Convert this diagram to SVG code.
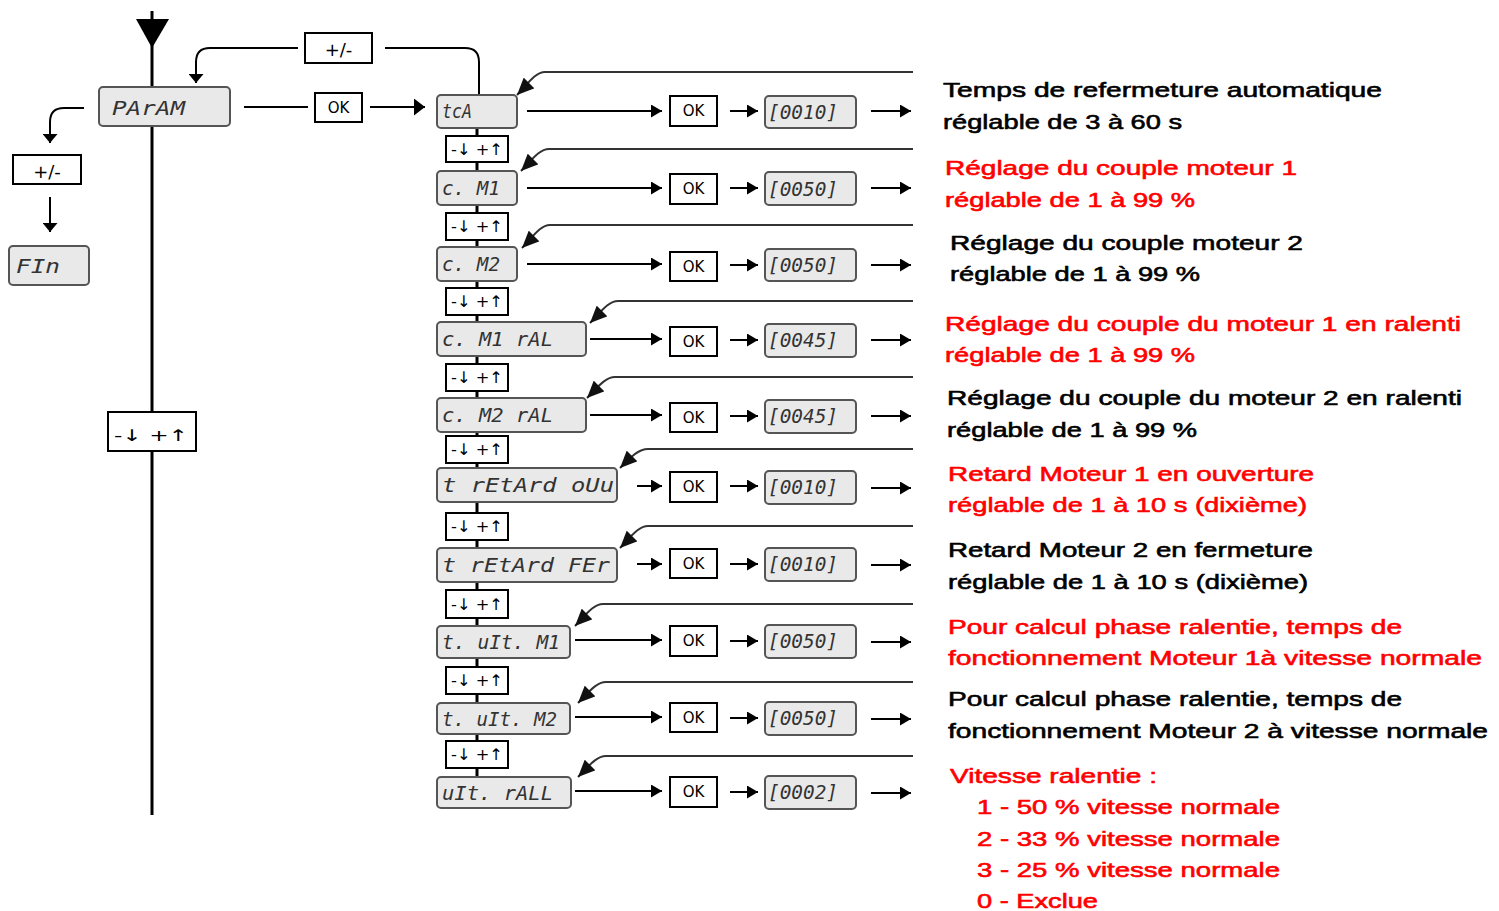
<svg xmlns="http://www.w3.org/2000/svg" width="1499" height="911" viewBox="0 0 1499 911">
<style>
.disp{fill:#e9e9e9;stroke:#555;stroke-width:2}
.btn{fill:#fff;stroke:#000;stroke-width:2}
.seg{font-family:"DejaVu Sans Mono",monospace;font-style:italic;font-size:19px;fill:#333}
.ok{font-family:"DejaVu Sans",sans-serif;font-size:15px;fill:#000}
.pm{font-family:"DejaVu Sans",sans-serif;font-size:18px;fill:#000}
.ud{font-family:"DejaVu Sans",sans-serif;font-size:16px;fill:#000}
.t{font-family:"Liberation Sans",Arial,sans-serif;font-size:21px;stroke-width:0.6px}
.k{fill:#000;stroke:#000}
.r{fill:#ff0000;stroke:#ff0000}
.ln{fill:none;stroke:#000;stroke-width:2}
.ret{fill:none;stroke:#333;stroke-width:2}
.th{fill:none;stroke:#000;stroke-width:3}
</style>
<defs>
<marker id="ah" markerUnits="userSpaceOnUse" markerWidth="11" markerHeight="13" refX="11" refY="6.5" orient="auto"><path d="M0,0 L11,6.5 L0,13 z" fill="#000"/></marker>
<marker id="ahT" markerUnits="userSpaceOnUse" markerWidth="11" markerHeight="17" refX="11" refY="8.5" orient="auto"><path d="M0,0 L11,8.5 L0,17 z" fill="#000"/></marker>
<marker id="ahD" markerUnits="userSpaceOnUse" markerWidth="9" markerHeight="15" refX="9" refY="7.5" orient="auto"><path d="M0,0 L9,7.5 L0,15 z" fill="#000"/></marker>
<marker id="ahR" markerUnits="userSpaceOnUse" markerWidth="17" markerHeight="15" refX="17" refY="7.5" orient="auto"><path d="M0,0 L17,7.5 L0,15 z" fill="#111"/></marker>
</defs>

<g id="connectors">
<path class="th" d="M152,11 V87"/>
<path class="th" d="M152,126 V815"/>
<polygon points="136,19 169,19 152,48" fill="#000"/>
<path class="ln" d="M244,107 H308"/>
<path class="ln" d="M370,107 H425" marker-end="url(#ahT)"/>
<path class="ln" d="M479,95 V62 Q479,48 465,48 H385"/>
<path class="ln" d="M298,48 H210 Q196,48 196,62 V83" marker-end="url(#ahD)"/>
<path class="ln" d="M84,108 H64 Q50,108 50,122 V143" marker-end="url(#ahD)"/>
<path class="ln" d="M50,197 V232" marker-end="url(#ahD)"/>
<path class="th" d="M477,127 V777"/>

<path class="ln" d="M527,111 H662" marker-end="url(#ah)"/>
<path class="ln" d="M527,188 H662" marker-end="url(#ah)"/>
<path class="ln" d="M527,264 H662" marker-end="url(#ah)"/>
<path class="ln" d="M590,339 H662" marker-end="url(#ah)"/>
<path class="ln" d="M590,415 H662" marker-end="url(#ah)"/>
<path class="ln" d="M637,486 H662" marker-end="url(#ah)"/>
<path class="ln" d="M637,564 H662" marker-end="url(#ah)"/>
<path class="ln" d="M575,640 H662" marker-end="url(#ah)"/>
<path class="ln" d="M575,717 H662" marker-end="url(#ah)"/>
<path class="ln" d="M575,791 H662" marker-end="url(#ah)"/>

<path class="ln" d="M730,111 H758" marker-end="url(#ah)"/>
<path class="ln" d="M730,188 H758" marker-end="url(#ah)"/>
<path class="ln" d="M730,265 H758" marker-end="url(#ah)"/>
<path class="ln" d="M730,340 H758" marker-end="url(#ah)"/>
<path class="ln" d="M730,416 H758" marker-end="url(#ah)"/>
<path class="ln" d="M730,486 H758" marker-end="url(#ah)"/>
<path class="ln" d="M730,564 H758" marker-end="url(#ah)"/>
<path class="ln" d="M730,641 H758" marker-end="url(#ah)"/>
<path class="ln" d="M730,718 H758" marker-end="url(#ah)"/>
<path class="ln" d="M730,792 H758" marker-end="url(#ah)"/>

<path class="ln" d="M871,111 H911" marker-end="url(#ah)"/>
<path class="ln" d="M871,188 H911" marker-end="url(#ah)"/>
<path class="ln" d="M871,265 H911" marker-end="url(#ah)"/>
<path class="ln" d="M871,340 H911" marker-end="url(#ah)"/>
<path class="ln" d="M871,416 H911" marker-end="url(#ah)"/>
<path class="ln" d="M871,488 H911" marker-end="url(#ah)"/>
<path class="ln" d="M871,565 H911" marker-end="url(#ah)"/>
<path class="ln" d="M871,642 H911" marker-end="url(#ah)"/>
<path class="ln" d="M871,719 H911" marker-end="url(#ah)"/>
<path class="ln" d="M871,793 H911" marker-end="url(#ah)"/>

<path class="ret" d="M913,72 H545 C535,72 527,85 517,95" marker-end="url(#ahR)"/>
<path class="ret" d="M913,149 H549 C539,149 531,161 521,171" marker-end="url(#ahR)"/>
<path class="ret" d="M913,225 H550 C540,225 532,238 522,248" marker-end="url(#ahR)"/>
<path class="ret" d="M913,301 H618 C608,301 600,313 590,323" marker-end="url(#ahR)"/>
<path class="ret" d="M913,377 H615 C605,377 597,388 587,398" marker-end="url(#ahR)"/>
<path class="ret" d="M913,449 H648 C638,449 630,458 620,468" marker-end="url(#ahR)"/>
<path class="ret" d="M913,526 H648 C638,526 630,538 620,548" marker-end="url(#ahR)"/>
<path class="ret" d="M913,604 H603 C593,604 585,616 575,626" marker-end="url(#ahR)"/>
<path class="ret" d="M913,682 H606 C596,682 588,693 578,703" marker-end="url(#ahR)"/>
<path class="ret" d="M913,756 H606 C596,756 588,767 578,777" marker-end="url(#ahR)"/>
</g>

<g id="n-param"><rect class="disp" x="99" y="87" width="131" height="39" rx="4"/><text class="seg" x="112" y="115" font-size="23" textLength="73" lengthAdjust="spacingAndGlyphs">PArAM</text></g>
<g id="n-ok-param"><rect class="btn" x="315" y="93" width="47" height="29"/><text class="ok" x="338.5" y="113" text-anchor="middle">OK</text></g>
<g id="n-pm-top"><rect class="btn" x="305" y="33" width="67" height="30"/><text class="pm" x="338.5" y="56" text-anchor="middle" font-size="20">+/-</text></g>
<g id="n-pm-left"><rect class="btn" x="13" y="155" width="68" height="29"/><text class="pm" x="47" y="178" text-anchor="middle" font-size="20">+/-</text></g>
<g id="n-fin"><rect class="disp" x="9" y="246" width="80" height="39" rx="4"/><text class="seg" x="16" y="273" font-size="22" textLength="44" lengthAdjust="spacingAndGlyphs">FIn</text></g>
<g id="n-ud-left"><rect class="btn" x="108" y="412" width="88" height="39"/><text class="ud" x="114" y="441" font-size="22" textLength="74" lengthAdjust="spacingAndGlyphs">-↓ +↑</text></g>

<g id="n-tca"><rect class="disp" x="437" y="95" width="80" height="33" rx="4"/><text class="seg" x="442" y="118" textLength="30" lengthAdjust="spacingAndGlyphs">tcA</text></g>
<g id="n-ud1"><rect class="btn" x="446" y="136" width="62" height="26"/><text class="ud" x="451" y="155" textLength="52" lengthAdjust="spacingAndGlyphs">-↓ +↑</text></g>
<g id="n-cm1"><rect class="disp" x="437" y="171" width="80" height="34" rx="4"/><text class="seg" x="442" y="195" textLength="58" lengthAdjust="spacingAndGlyphs">c. M1</text></g>
<g id="n-ud2"><rect class="btn" x="446" y="213" width="62" height="27"/><text class="ud" x="451" y="232" textLength="52" lengthAdjust="spacingAndGlyphs">-↓ +↑</text></g>
<g id="n-cm2"><rect class="disp" x="437" y="247" width="80" height="34" rx="4"/><text class="seg" x="442" y="271" textLength="58" lengthAdjust="spacingAndGlyphs">c. M2</text></g>
<g id="n-ud3"><rect class="btn" x="446" y="288" width="62" height="27"/><text class="ud" x="451" y="307" textLength="52" lengthAdjust="spacingAndGlyphs">-↓ +↑</text></g>
<g id="n-cm1ral"><rect class="disp" x="437" y="322" width="149" height="34" rx="4"/><text class="seg" x="442" y="346" textLength="111" lengthAdjust="spacingAndGlyphs">c. M1 rAL</text></g>
<g id="n-ud4"><rect class="btn" x="446" y="364" width="62" height="27"/><text class="ud" x="451" y="383" textLength="52" lengthAdjust="spacingAndGlyphs">-↓ +↑</text></g>
<g id="n-cm2ral"><rect class="disp" x="437" y="398" width="149" height="34" rx="4"/><text class="seg" x="442" y="422" textLength="111" lengthAdjust="spacingAndGlyphs">c. M2 rAL</text></g>
<g id="n-ud5"><rect class="btn" x="446" y="436" width="62" height="27"/><text class="ud" x="451" y="455" textLength="52" lengthAdjust="spacingAndGlyphs">-↓ +↑</text></g>
<g id="n-tretouv"><rect class="disp" x="437" y="468" width="180" height="34" rx="4"/><text class="seg" x="442" y="492" textLength="172" lengthAdjust="spacingAndGlyphs">t rEtArd oUu</text></g>
<g id="n-ud6"><rect class="btn" x="446" y="513" width="62" height="27"/><text class="ud" x="451" y="532" textLength="52" lengthAdjust="spacingAndGlyphs">-↓ +↑</text></g>
<g id="n-tretfer"><rect class="disp" x="437" y="548" width="180" height="34" rx="4"/><text class="seg" x="442" y="572" textLength="168" lengthAdjust="spacingAndGlyphs">t rEtArd FEr</text></g>
<g id="n-ud7"><rect class="btn" x="446" y="590" width="62" height="28"/><text class="ud" x="451" y="610" textLength="52" lengthAdjust="spacingAndGlyphs">-↓ +↑</text></g>
<g id="n-tvitm1"><rect class="disp" x="437" y="626" width="133" height="32" rx="4"/><text class="seg" x="442" y="649" textLength="118" lengthAdjust="spacingAndGlyphs">t. uIt. M1</text></g>
<g id="n-ud8"><rect class="btn" x="446" y="667" width="62" height="27"/><text class="ud" x="451" y="686" textLength="52" lengthAdjust="spacingAndGlyphs">-↓ +↑</text></g>
<g id="n-tvitm2"><rect class="disp" x="437" y="703" width="133" height="31" rx="4"/><text class="seg" x="442" y="726" textLength="115" lengthAdjust="spacingAndGlyphs">t. uIt. M2</text></g>
<g id="n-ud9"><rect class="btn" x="446" y="741" width="62" height="27"/><text class="ud" x="451" y="760" textLength="52" lengthAdjust="spacingAndGlyphs">-↓ +↑</text></g>
<g id="n-vitrall"><rect class="disp" x="437" y="777" width="134" height="31" rx="4"/><text class="seg" x="442" y="800" textLength="111" lengthAdjust="spacingAndGlyphs">uIt. rALL</text></g>

<g id="n-ok1"><rect class="btn" x="670" y="96" width="47" height="30"/><text class="ok" x="693.5" y="116" text-anchor="middle">OK</text></g>
<g id="n-ok2"><rect class="btn" x="670" y="174" width="47" height="30"/><text class="ok" x="693.5" y="194" text-anchor="middle">OK</text></g>
<g id="n-ok3"><rect class="btn" x="670" y="252" width="47" height="29"/><text class="ok" x="693.5" y="272" text-anchor="middle">OK</text></g>
<g id="n-ok4"><rect class="btn" x="670" y="327" width="47" height="29"/><text class="ok" x="693.5" y="347" text-anchor="middle">OK</text></g>
<g id="n-ok5"><rect class="btn" x="670" y="403" width="47" height="29"/><text class="ok" x="693.5" y="423" text-anchor="middle">OK</text></g>
<g id="n-ok6"><rect class="btn" x="670" y="472" width="47" height="30"/><text class="ok" x="693.5" y="492" text-anchor="middle">OK</text></g>
<g id="n-ok7"><rect class="btn" x="670" y="549" width="47" height="29"/><text class="ok" x="693.5" y="569" text-anchor="middle">OK</text></g>
<g id="n-ok8"><rect class="btn" x="670" y="626" width="47" height="30"/><text class="ok" x="693.5" y="646" text-anchor="middle">OK</text></g>
<g id="n-ok9"><rect class="btn" x="670" y="703" width="47" height="29"/><text class="ok" x="693.5" y="723" text-anchor="middle">OK</text></g>
<g id="n-ok10"><rect class="btn" x="670" y="777" width="47" height="30"/><text class="ok" x="693.5" y="797" text-anchor="middle">OK</text></g>

<g id="n-v1"><rect class="disp" x="765" y="96" width="91" height="32" rx="4"/><text class="seg" x="768" y="119" textLength="70" lengthAdjust="spacingAndGlyphs">[0010]</text></g>
<g id="n-v2"><rect class="disp" x="765" y="172" width="91" height="33" rx="4"/><text class="seg" x="768" y="196" textLength="70" lengthAdjust="spacingAndGlyphs">[0050]</text></g>
<g id="n-v3"><rect class="disp" x="765" y="249" width="91" height="32" rx="4"/><text class="seg" x="768" y="272" textLength="70" lengthAdjust="spacingAndGlyphs">[0050]</text></g>
<g id="n-v4"><rect class="disp" x="765" y="324" width="91" height="33" rx="4"/><text class="seg" x="768" y="347" textLength="70" lengthAdjust="spacingAndGlyphs">[0045]</text></g>
<g id="n-v5"><rect class="disp" x="765" y="400" width="91" height="33" rx="4"/><text class="seg" x="768" y="423" textLength="70" lengthAdjust="spacingAndGlyphs">[0045]</text></g>
<g id="n-v6"><rect class="disp" x="765" y="471" width="91" height="33" rx="4"/><text class="seg" x="768" y="494" textLength="70" lengthAdjust="spacingAndGlyphs">[0010]</text></g>
<g id="n-v7"><rect class="disp" x="765" y="548" width="91" height="33" rx="4"/><text class="seg" x="768" y="571" textLength="70" lengthAdjust="spacingAndGlyphs">[0010]</text></g>
<g id="n-v8"><rect class="disp" x="765" y="625" width="91" height="33" rx="4"/><text class="seg" x="768" y="648" textLength="70" lengthAdjust="spacingAndGlyphs">[0050]</text></g>
<g id="n-v9"><rect class="disp" x="765" y="702" width="91" height="33" rx="4"/><text class="seg" x="768" y="725" textLength="70" lengthAdjust="spacingAndGlyphs">[0050]</text></g>
<g id="n-v10"><rect class="disp" x="765" y="776" width="91" height="33" rx="4"/><text class="seg" x="768" y="799" textLength="70" lengthAdjust="spacingAndGlyphs">[0002]</text></g>

<g id="n-desc1" class="t k"><text x="943" y="97" textLength="439" lengthAdjust="spacingAndGlyphs">Temps de refermeture automatique</text><text x="943" y="129" textLength="239" lengthAdjust="spacingAndGlyphs">réglable de 3 à 60 s</text></g>
<g id="n-desc2" class="t r"><text x="945" y="175" textLength="352" lengthAdjust="spacingAndGlyphs">Réglage du couple moteur 1</text><text x="945" y="207" textLength="250" lengthAdjust="spacingAndGlyphs">réglable de 1 à 99 %</text></g>
<g id="n-desc3" class="t k"><text x="950" y="250" textLength="353" lengthAdjust="spacingAndGlyphs">Réglage du couple moteur 2</text><text x="950" y="281" textLength="250" lengthAdjust="spacingAndGlyphs">réglable de 1 à 99 %</text></g>
<g id="n-desc4" class="t r"><text x="945" y="331" textLength="516" lengthAdjust="spacingAndGlyphs">Réglage du couple du moteur 1 en ralenti</text><text x="945" y="362" textLength="250" lengthAdjust="spacingAndGlyphs">réglable de 1 à 99 %</text></g>
<g id="n-desc5" class="t k"><text x="947" y="405" textLength="515" lengthAdjust="spacingAndGlyphs">Réglage du couple du moteur 2 en ralenti</text><text x="947" y="437" textLength="250" lengthAdjust="spacingAndGlyphs">réglable de 1 à 99 %</text></g>
<g id="n-desc6" class="t r"><text x="948" y="481" textLength="366" lengthAdjust="spacingAndGlyphs">Retard Moteur 1 en ouverture</text><text x="948" y="512" textLength="359" lengthAdjust="spacingAndGlyphs">réglable de 1 à 10 s (dixième)</text></g>
<g id="n-desc7" class="t k"><text x="948" y="557" textLength="365" lengthAdjust="spacingAndGlyphs">Retard Moteur 2 en fermeture</text><text x="948" y="589" textLength="360" lengthAdjust="spacingAndGlyphs">réglable de 1 à 10 s (dixième)</text></g>
<g id="n-desc8" class="t r"><text x="948" y="634" textLength="454" lengthAdjust="spacingAndGlyphs">Pour calcul phase ralentie, temps de</text><text x="948" y="665" textLength="534" lengthAdjust="spacingAndGlyphs">fonctionnement Moteur 1à vitesse normale</text></g>
<g id="n-desc9" class="t k"><text x="948" y="706" textLength="454" lengthAdjust="spacingAndGlyphs">Pour calcul phase ralentie, temps de</text><text x="948" y="738" textLength="540" lengthAdjust="spacingAndGlyphs">fonctionnement Moteur 2 à vitesse normale</text></g>
<g id="n-desc10" class="t r"><text x="950" y="783" textLength="207" lengthAdjust="spacingAndGlyphs">Vitesse ralentie :</text><text x="977" y="814" textLength="303" lengthAdjust="spacingAndGlyphs">1 - 50 % vitesse normale</text><text x="977" y="846" textLength="303" lengthAdjust="spacingAndGlyphs">2 - 33 % vitesse normale</text><text x="977" y="877" textLength="303" lengthAdjust="spacingAndGlyphs">3 - 25 % vitesse normale</text><text x="977" y="908" textLength="121" lengthAdjust="spacingAndGlyphs">0 - Exclue</text></g>
</svg>
